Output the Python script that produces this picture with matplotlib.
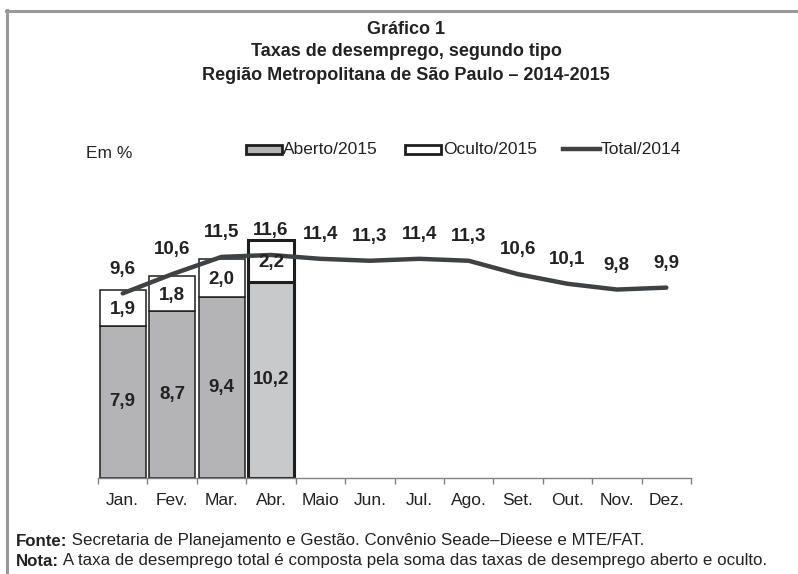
import matplotlib
matplotlib.use("Agg")
import matplotlib.pyplot as plt
from matplotlib import font_manager
from matplotlib.patches import Rectangle
from matplotlib.lines import Line2D

names = sorted({f.name for f in font_manager.fontManager.ttflist})
FAM = 'Liberation Sans Narrow' if 'Liberation Sans Narrow' in names else 'Liberation Sans'
plt.rcParams['font.family'] = [FAM, 'DejaVu Sans']

months = ['Jan.', 'Fev.', 'Mar.', 'Abr.', 'Maio', 'Jun.', 'Jul.', 'Ago.', 'Set.', 'Out.', 'Nov.', 'Dez.']
aberto_2015 = [7.9, 8.7, 9.4, 10.2]
oculto_2015 = [1.9, 1.8, 2.0, 2.2]
total_2014 = [9.6, 10.6, 11.5, 11.6, 11.4, 11.3, 11.4, 11.3, 10.6, 10.1, 9.8, 9.9]

W, H = 798, 574
fig = plt.figure(figsize=(W / 100, H / 100), dpi=100)

def fx(px):
    return px / W

def fy(py):
    return 1 - py / H

x0, x1 = 98, 691
ybase, ppu, ytop = 477.7, 19.2, 14
ax = fig.add_axes([fx(x0), fy(ybase), fx(x1 - x0), ytop * ppu / H])
ax.set_xlim(-0.5, 11.5)
ax.set_ylim(0, ytop)

fill_main = '#b4b4b6'
fill_last = '#c8c9cb'
edge = '#1e1e1e'
n = len(aberto_2015)
xs = list(range(n))
for i in xs:
    last = (i == n - 1)
    lw = 2.2 if last else 1.1
    fc = fill_last if last else fill_main
    ax.bar(i, aberto_2015[i], width=0.93, color=fc, edgecolor=edge, linewidth=lw, zorder=2)
    ax.bar(i, oculto_2015[i], bottom=aberto_2015[i], width=0.93, color='white',
           edgecolor=edge, linewidth=lw, zorder=2)
    ax.text(i, aberto_2015[i] / 2, f"{aberto_2015[i]:.1f}".replace('.', ','),
            ha='center', va='center', fontsize=13.5, fontweight='bold', color='#222', zorder=4)
    ax.text(i, aberto_2015[i] + oculto_2015[i] / 2 - 0.1, f"{oculto_2015[i]:.1f}".replace('.', ','),
            ha='center', va='center', fontsize=13.5, fontweight='bold', color='#222', zorder=4)

ax.plot(range(len(total_2014)), total_2014, color='#3f4244', lw=3.2, zorder=3,
        solid_capstyle='round')
for i, v in enumerate(total_2014):
    ax.annotate(f"{v:.1f}".replace('.', ','), (i, v), xytext=(0, 17.5), textcoords='offset points',
                ha='center', va='center', fontsize=13.5, fontweight='bold', color='#222', zorder=4)

for s in ['left', 'right', 'top']:
    ax.spines[s].set_visible(False)
ax.spines['bottom'].set_color('#808080')
ax.spines['bottom'].set_linewidth(1.0)
ax.set_yticks([])
ax.set_xticks([i - 0.5 for i in range(13)])
ax.set_xticklabels([])
ax.tick_params(axis='x', which='major', direction='out', length=4, color='#808080', width=1.0)
ax.set_xticks(range(12), minor=True)
ax.set_xticklabels(months, minor=True, fontsize=12.5, color='#222')
ax.tick_params(axis='x', which='minor', length=0, pad=11)

# overlay in pixel coordinates for frame, titles, legend and notes
ov = fig.add_axes([0, 0, 1, 1], zorder=-1)
ov.set_xlim(0, W)
ov.set_ylim(H, 0)
ov.axis('off')
ov.add_line(Line2D([7, 7], [10, H], color='#9a9a9a', lw=2.2))
ov.add_line(Line2D([6, W], [11, 11], color='#9a9a9a', lw=2.2))

top = fig.add_axes([0, 0, 1, 1], zorder=5)
top.set_xlim(0, W)
top.set_ylim(H, 0)
top.axis('off')
top.patch.set_alpha(0)
titles = ['Gráfico 1', 'Taxas de desemprego, segundo tipo',
          'Região Metropolitana de São Paulo – 2014-2015']
for k, t in enumerate(titles):
    top.text(406, 29 + 23 * k, t, ha='center', va='center', fontsize=13, fontweight='bold', color='#222')

top.text(86, 153, 'Em %', ha='left', va='center', fontsize=12.5, color='#222')
top.add_patch(Rectangle((246, 145), 36, 9, facecolor=fill_main, edgecolor=edge, lw=2))
top.text(283, 149, 'Aberto/2015', ha='left', va='center', fontsize=12.5, color='#222')
top.add_patch(Rectangle((405, 145), 36, 9, facecolor='white', edgecolor=edge, lw=2))
top.text(443, 149, 'Oculto/2015', ha='left', va='center', fontsize=12.5, color='#222')
top.add_line(Line2D([563, 600], [149, 149], color='#3f4244', lw=3.2))
top.text(601, 149, 'Total/2014', ha='left', va='center', fontsize=12.5, color='#222')

fig.canvas.draw()
r = fig.canvas.get_renderer()
for y, b, rest in [(541, 'Fonte:', ' Secretaria de Planejamento e Gestão. Convênio Seade–Dieese e MTE/FAT.'),
                   (561, 'Nota:', ' A taxa de desemprego total é composta pela soma das taxas de desemprego aberto e oculto.')]:
    tb = top.text(16, y, b, ha='left', va='center', fontsize=12.2, fontweight='bold', color='#222')
    bb = tb.get_window_extent(renderer=r)
    top.text(bb.x1, H - y, rest, ha='left', va='center', fontsize=12.2, color='#222',
             transform=None)

fig.savefig('out.png', dpi=100)
